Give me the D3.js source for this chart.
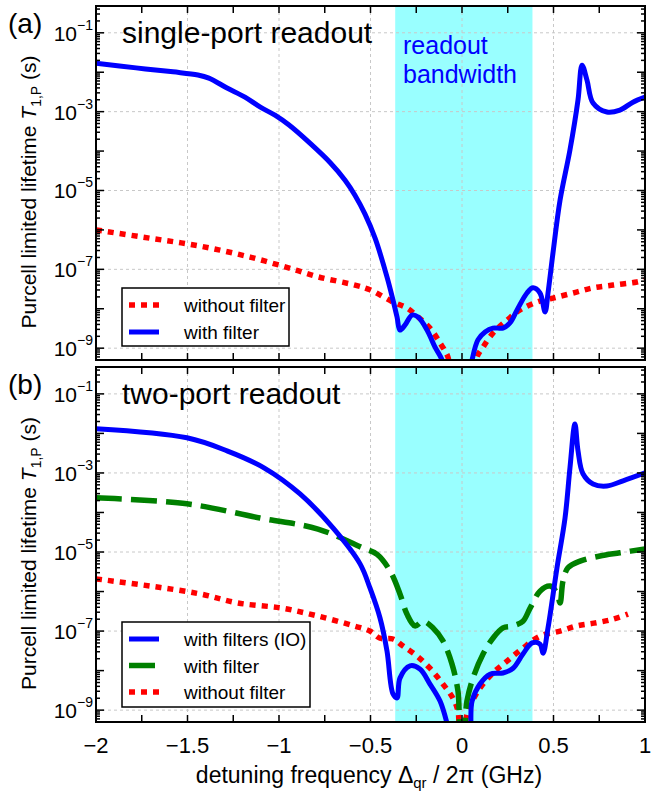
<!DOCTYPE html>
<html><head><meta charset="utf-8">
<script src="https://cdn.jsdelivr.net/npm/d3@7"></script>
<style>body{margin:0;background:#fff}svg{display:block}text{font-family:"Liberation Sans",Arial,sans-serif}</style>
</head><body>
<svg id="c" width="670" height="794"></svg>
<script>
// ---- data (x: detuning GHz, y: log10 of T1,P in s) ----
const xTickVals = [-2,-1.5,-1,-0.5,0,0.5,1];
const xTickLabels = ["\u22122","\u22121.5","\u22121","\u22120.5","0","0.5","1"];
const yTickExps = [-1,-3,-5,-7,-9];
const yTickLabels = ["\u22121","\u22123","\u22125","\u22127","\u22129"];
const band = [-0.365, 0.385];

const aBlueX = [-2,-1.781,-1.579,-1.443,-1.383,-1.284,-1.186,-1.104,-1.022,-0.945,-0.831,-0.721,-0.639,-0.585,-0.53,-0.475,-0.41,-0.377,-0.355,-0.339,-0.311,-0.273,-0.24,-0.191,-0.148,-0.109,-0.085,0.035,0.055,0.087,0.126,0.169,0.224,0.262,0.301,0.355,0.388,0.426,0.454,0.47,0.497,0.536,0.59,0.634,0.656,0.683,0.716,0.792,0.863,0.934,1.0];
const aBlueY = [-1.77,-1.89,-1.99,-2.07,-2.15,-2.4,-2.63,-2.88,-3.09,-3.34,-3.8,-4.29,-4.74,-5.12,-5.6,-6.21,-7.19,-7.78,-8.21,-8.54,-8.41,-8.16,-8.21,-8.54,-8.97,-9.3,-9.8,-9.8,-9.3,-8.79,-8.59,-8.49,-8.49,-8.36,-8.03,-7.6,-7.47,-7.6,-8.08,-7.6,-6.59,-5.24,-3.97,-2.7,-1.82,-2.2,-2.78,-3.01,-2.96,-2.76,-2.63];

const aRedX = [-2,-1.705,-1.432,-1.158,-0.907,-0.787,-0.585,-0.503,-0.377,-0.301,-0.24,-0.175,-0.12,-0.077,-0.055,0.06,0.082,0.115,0.169,0.246,0.317,0.41,0.497,0.607,0.716,0.825,0.956,1.0];
const aRedY = [-6.0,-6.21,-6.41,-6.69,-7.02,-7.19,-7.4,-7.52,-7.83,-7.98,-8.21,-8.49,-8.87,-9.22,-9.8,-9.8,-9.22,-8.97,-8.62,-8.29,-8.03,-7.83,-7.73,-7.6,-7.47,-7.4,-7.32,-7.27];

const bBlueX = [-2,-1.503,-1.284,-1.082,-0.885,-0.705,-0.557,-0.503,-0.448,-0.41,-0.377,-0.355,-0.339,-0.284,-0.23,-0.175,-0.12,-0.082,-0.06,0.03,0.055,0.098,0.153,0.224,0.279,0.333,0.383,0.426,0.443,0.47,0.519,0.563,0.59,0.617,0.634,0.661,0.716,0.792,0.88,1.0];
const bBlueY = [-1.88,-2.11,-2.44,-2.87,-3.53,-4.39,-5.3,-5.91,-6.67,-7.5,-8.59,-8.69,-8.19,-7.88,-7.96,-8.34,-8.77,-9.33,-9.8,-9.8,-8.77,-8.34,-8.09,-8.06,-7.94,-7.58,-7.3,-7.33,-7.56,-6.92,-5.4,-4.14,-2.87,-1.76,-2.44,-3.02,-3.28,-3.33,-3.2,-3.0];

const bGreenX = [-2,-1.503,-1.104,-0.787,-0.541,-0.464,-0.393,-0.339,-0.301,-0.257,-0.213,-0.158,-0.104,-0.055,-0.022,-0.005,0.008,0.027,0.06,0.115,0.169,0.224,0.279,0.333,0.372,0.426,0.481,0.519,0.536,0.552,0.579,0.645,0.754,0.863,1.0];
const bGreenY = [-3.63,-3.78,-4.14,-4.42,-4.9,-5.06,-5.48,-6.06,-6.57,-6.87,-6.75,-6.92,-7.25,-7.83,-8.52,-9.5,-9.5,-8.77,-8.19,-7.58,-7.18,-6.92,-6.87,-6.75,-6.42,-5.99,-5.86,-6.04,-6.29,-5.73,-5.4,-5.23,-5.1,-5.02,-4.92];

const bRedX = [-2,-1.705,-1.432,-1.224,-0.984,-0.787,-0.59,-0.503,-0.448,-0.377,-0.322,-0.246,-0.175,-0.104,-0.049,-0.022,-0.008,0.012,0.027,0.087,0.169,0.246,0.333,0.426,0.536,0.628,0.721,0.825,0.907];
const bRedY = [-5.68,-5.86,-6.06,-6.29,-6.42,-6.62,-6.87,-7.0,-7.18,-7.2,-7.38,-7.63,-7.94,-8.34,-8.7,-9.02,-9.6,-9.6,-9.1,-8.52,-8.06,-7.76,-7.43,-7.13,-7.0,-6.87,-6.8,-6.7,-6.57];

const legendA = [{name:"without filter", style:"red"},{name:"with filter", style:"blue"}];
const legendB = [{name:"with filters (IO)", style:"blue"},{name:"with filter", style:"green"},{name:"without filter", style:"red"}];

// ---- drawing ----
const svg = d3.select("#c");
const L = 96, R = 645;
const x = d3.scaleLinear().domain([-2,1]).range([L,R]);
const yDomain = [Math.pow(10,-9.3), Math.pow(10,-0.32)];
const styles = {
  blue:  {stroke:"#0000ff", width:5, dash:null},
  red:   {stroke:"#ff0000", width:5.5, dash:"6,6"},
  green: {stroke:"#008000", width:5.5, dash:"26,9"}
};

function panel(id, top, bottom, series, legend, legBox, title, tag) {
  const y = d3.scaleLog().domain(yDomain).range([bottom, top]);
  const g = svg.append("g");
  const clipId = "clip"+id;
  svg.append("defs").append("clipPath").attr("id", clipId)
    .append("rect").attr("x",L).attr("y",top).attr("width",R-L).attr("height",bottom-top);
  g.append("rect").attr("x", x(band[0])).attr("y", top).attr("width", x(band[1])-x(band[0])).attr("height", bottom-top)
    .attr("fill", "#99ffff");
  const grid = g.append("g").attr("stroke","#c8c8c8").attr("stroke-width",1).attr("stroke-dasharray","3,3");
  xTickVals.slice(1,-1).forEach(v => grid.append("line").attr("x1",x(v)).attr("x2",x(v)).attr("y1",top).attr("y2",bottom));
  yTickExps.forEach(e => grid.append("line").attr("x1",L).attr("x2",R).attr("y1",y(Math.pow(10,e))).attr("y2",y(Math.pow(10,e))));
  const cg = g.append("g").attr("clip-path", `url(#${clipId})`);
  series.forEach(s => {
    const st = styles[s.style];
    const pts = s.xs.map((v,i) => [v, Math.pow(10, s.ys[i])]);
    const line = d3.line().x(d => x(d[0])).y(d => y(d[1])).curve(d3.curveCatmullRom.alpha(0.5));
    cg.append("path").attr("d", line(pts)).attr("fill","none").attr("stroke",st.stroke)
      .attr("stroke-width",st.width).attr("stroke-dasharray",st.dash).attr("stroke-linejoin","round");
  });
  const lg = g.append("g");
  lg.append("rect").attr("x",legBox[0]).attr("y",legBox[1]).attr("width",legBox[2]-legBox[0]).attr("height",legBox[3]-legBox[1])
    .attr("fill","#fff").attr("stroke","#000").attr("stroke-width",1.5);
  legend.forEach((d,i) => {
    const cy = legBox[4] + i*legBox[5];
    const st = styles[d.style];
    lg.append("line").attr("x1",129).attr("x2",159).attr("y1",cy).attr("y2",cy).attr("stroke",st.stroke)
      .attr("stroke-width",st.width).attr("stroke-dasharray",st.dash);
    lg.append("text").attr("x",184).attr("y",cy+7).attr("font-size",19).attr("fill","#000").text(d.name);
  });
  g.append("rect").attr("x",L).attr("y",top).attr("width",R-L).attr("height",bottom-top).attr("fill","none")
    .attr("stroke","#000").attr("stroke-width",2);
  const tk = g.append("g").attr("stroke","#000").attr("stroke-width",1.5);
  d3.range(-2, 1.001, 0.25).forEach(v => {
    tk.append("line").attr("x1",x(v)).attr("x2",x(v)).attr("y1",bottom).attr("y2",bottom-7);
    tk.append("line").attr("x1",x(v)).attr("x2",x(v)).attr("y1",top).attr("y2",top+7);
  });
  for (let e = -10; e <= 0; e++) {
    for (let k = 1; k <= 9; k++) {
      const v = k*Math.pow(10,e);
      if (v < yDomain[0] || v > yDomain[1]) continue;
      const len = k===1 ? 8 : 4;
      const yy = y(v);
      tk.append("line").attr("x1",L).attr("x2",L+len).attr("y1",yy).attr("y2",yy);
      tk.append("line").attr("x1",R).attr("x2",R-len).attr("y1",yy).attr("y2",yy);
    }
  }
  yTickExps.forEach((e,i) => {
    const t = g.append("text").attr("x",93).attr("y",y(Math.pow(10,e))+8).attr("text-anchor","end")
      .attr("font-size",21).attr("fill","#000");
    t.append("tspan").text("10");
    t.append("tspan").attr("dy",-11).attr("font-size",14).text(yTickLabels[i]);
  });
  g.append("text").attr("x",122).attr("y",top+37).attr("font-size",30).attr("fill","#000").text(title);
  g.append("text").attr("x",8).attr("y",top+27).attr("font-size",28).attr("fill","#000").text(tag);
  const cy = (top+bottom)/2 + 9;
  const yl = g.append("text").attr("transform",`translate(36,${cy}) rotate(-90)`).attr("text-anchor","middle")
    .attr("font-size",21).attr("fill","#000");
  yl.append("tspan").text("Purcell limited lifetime ");
  yl.append("tspan").attr("font-style","italic").text("T");
  yl.append("tspan").attr("font-size",14).attr("dy",5).text("1,P");
  yl.append("tspan").attr("dy",-5).text(" (s)");
  return {g, y};
}

const pa = panel("a", 6, 360,
  [{xs:aRedX, ys:aRedY, style:"red"},{xs:aBlueX, ys:aBlueY, style:"blue"}],
  legendA, [122,288,289,346,305,27], "single-port readout", "(a)");
pa.g.append("text").attr("x",403).attr("y",54).attr("font-size",25).attr("fill","#0000ff").text("readout");
pa.g.append("text").attr("x",403).attr("y",83).attr("font-size",25).attr("fill","#0000ff").text("bandwidth");

const pb = panel("b", 367, 722,
  [{xs:bRedX, ys:bRedY, style:"red"},{xs:bGreenX, ys:bGreenY, style:"green"},{xs:bBlueX, ys:bBlueY, style:"blue"}],
  legendB, [122,622,310,707,639,26.5], "two-port readout", "(b)");

xTickVals.forEach((v,i) => {
  svg.append("text").attr("x",x(v)).attr("y",753).attr("text-anchor","middle").attr("font-size",22).text(xTickLabels[i]);
});
const xt = svg.append("text").attr("x",369).attr("y",783).attr("text-anchor","middle").attr("font-size",23);
xt.append("tspan").text("detuning frequency \u0394");
xt.append("tspan").attr("font-size",15).attr("dy",5).text("qr");
xt.append("tspan").attr("dy",-5).text(" / 2\u03c0 (GHz)");
</script>
</body></html>
